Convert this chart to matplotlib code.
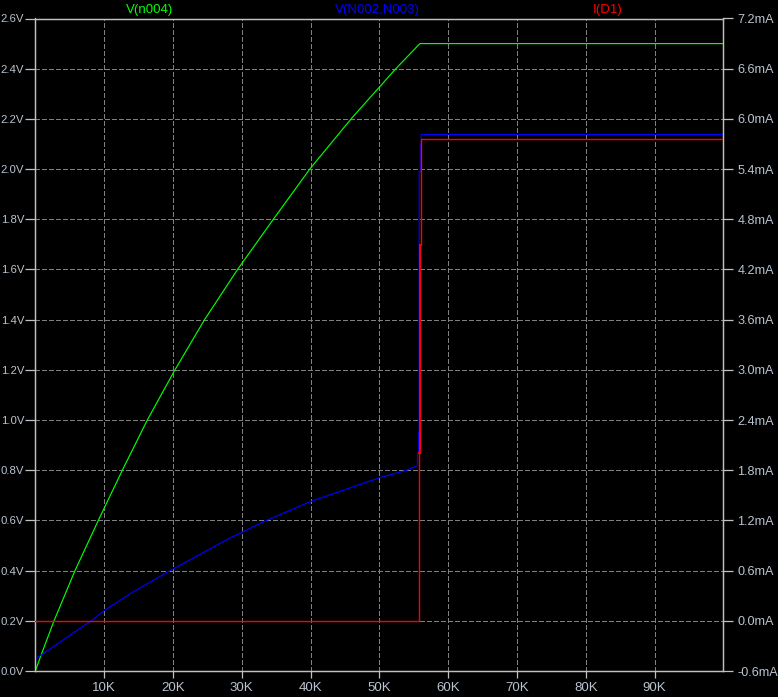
import matplotlib
matplotlib.use('Agg')
import matplotlib.pyplot as plt

# V(n004) - green, volts
green_x = [0, 0.93, 2.72, 5.77, 9.16, 12.65, 16.28, 20.3, 24.6, 29.4, 34.6, 39.9, 45.9, 52.4, 55.9, 100]
green_v = [0.0, 0.07, 0.2, 0.4, 0.6, 0.8, 1.0, 1.2, 1.4, 1.6, 1.8, 2.0, 2.2, 2.4, 2.5, 2.5]

# V(N002,N003) - blue, volts
blue_x = [0, 0.93, 8.1, 10, 14.2, 19.6, 28.3, 33.6, 40, 50, 54, 55.4, 55.55, 55.55, 55.72, 55.72,
          55.8, 55.8, 55.95, 55.95, 56.1, 56.1, 100]
blue_v = [0.049, 0.065, 0.2, 0.24, 0.315, 0.4, 0.53, 0.6, 0.675, 0.77, 0.80, 0.817, 0.82, 0.867, 0.867, 0.953,
          0.953, 1.99, 1.99, 2.10, 2.10, 2.138, 2.138]

# I(D1) - red, mA
red_x = [0, 55.8, 55.8, 55.9, 55.9, 56.05, 56.05, 100]
red_ma = [0, 0, 2.0, 2.0, 4.49, 4.49, 5.755, 5.755]

x_ticks = [10, 20, 30, 40, 50, 60, 70, 80, 90]
x_labels = ['%dK' % t for t in x_ticks]
v_ticks = [i * 0.2 for i in range(14)]
v_labels = ['%.1fV' % t for t in v_ticks]
ma_ticks = [-0.6 + i * 0.6 for i in range(14)]
ma_labels = ['%.1fmA' % (t + 0.0) for t in ma_ticks]

axis_col = '#c0c0c0'
text_col = '#b8c4d0'
grid_col = '#808080'
font = 'Liberation Sans'
fs = 9.5

fig = plt.figure(figsize=(7.78, 6.97), dpi=100, facecolor='black')
W, H = 778, 697
ax = fig.add_axes([35.3 / W, (H - 671) / H, (723.3 - 35.3) / W, (671 - 18.5) / H])
ax.set_facecolor('black')
ax2 = ax.twinx()

ax.set_xlim(0, 100)
ax.set_ylim(0, 2.6)
ax2.set_ylim(-0.6, 7.2)

for t in x_ticks:
    ax.axvline(t, color=grid_col, lw=0.6, ls=(0, (5, 3.5)), zorder=0, antialiased=False)
for t in v_ticks[1:-1]:
    ax.axhline(t, color=grid_col, lw=0.6, ls=(0, (5, 3.5)), zorder=0, antialiased=False)

ax.plot(green_x, green_v, color='#00ff00', lw=0.85, zorder=3)
ax.plot(blue_x, blue_v, color='#0000ff', lw=0.85, zorder=3)
ax2.plot(red_x, red_ma, color='#ff0000', lw=1.0, zorder=4, snap=True)
ax2.plot(red_x[2:5], red_ma[2:5], color='#ff0000', lw=1.4, zorder=4, snap=True)

ax.set_xticks(x_ticks)
ax.set_xticklabels(x_labels)
ax.set_yticks(v_ticks)
ax.set_yticklabels(v_labels)
ax2.set_yticks(ma_ticks)
ax2.set_yticklabels(ma_labels)

for a in (ax, ax2):
    for s in a.spines.values():
        s.set_color(axis_col)
        s.set_linewidth(0.9)
ax.tick_params(axis='x', colors=axis_col, length=5, width=0.9, pad=3, labelcolor=text_col, labelsize=fs)
ax.tick_params(axis='y', colors=axis_col, length=7, width=0.9, pad=1, labelcolor=text_col, labelsize=8.2)
ax2.tick_params(axis='y', colors=axis_col, length=7, width=0.9, pad=3, labelcolor=text_col, labelsize=9.1)
for lab in ax.get_xticklabels() + ax.get_yticklabels() + ax2.get_yticklabels():
    lab.set_fontfamily(font)

fig.text(149.6 / W, 1 - 9.5 / H, 'V(n004)', color='#00ff00', ha='center', va='center', fontsize=fs, family=font)
fig.text(377 / W, 1 - 9.5 / H, 'V(N002,N003)', color='#0000ff', ha='center', va='center', fontsize=fs, family=font)
fig.text(607.6 / W, 1 - 9.5 / H, 'I(D1)', color='#ff0000', ha='center', va='center', fontsize=fs, family=font)

fig.savefig('out.png', dpi=100, facecolor='black')
